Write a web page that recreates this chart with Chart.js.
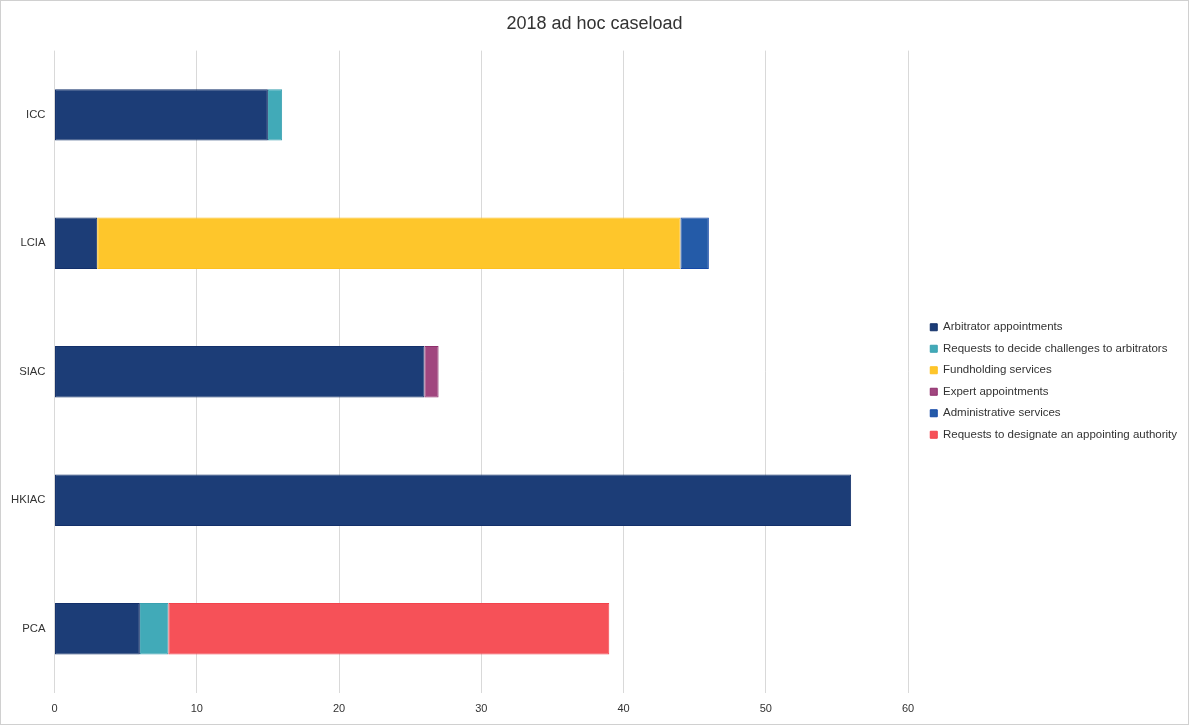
<!DOCTYPE html>
<html>
<head>
<meta charset="utf-8">
<script src="https://cdn.jsdelivr.net/npm/chart.js@4"></script>
<style>
  html, body { margin: 0; padding: 0; background: #fff; }
  #wrap { position: relative; width: 1189px; height: 725px; box-sizing: border-box; border: 1px solid #d0d0d0; }
</style>
</head>
<body>
<div id="wrap"><canvas id="chart"></canvas></div>
<script>
// Categories (top to bottom)
const institutions = ['ICC', 'LCIA', 'SIAC', 'HKIAC', 'PCA'];

// Series values, one entry per institution
const arbitratorAppointments = [15, 3, 26, 56, 6];
const challengeRequests = [1, null, null, null, 2];
const fundholdingServices = [null, 41, null, null, null];
const expertAppointments = [null, null, 1, null, null];
const administrativeServices = [null, 2, null, null, null];
const designateRequests = [null, null, null, null, 31];

// X axis ticks
const xTicks = [0, 10, 20, 30, 40, 50, 60];

const fontFamily = '"Liberation Sans", Arial, sans-serif';
const textColor = '#333333';

function series(label, data, fill, border) {
    return {
        label: label,
        data: data,
        backgroundColor: fill,
        borderColor: border,
        borderWidth: 1,
        borderSkipped: false,
        categoryPercentage: 1,
        barPercentage: 0.4
    };
}

const ctx = document.getElementById('chart').getContext('2d');
new Chart(ctx, {
    type: 'bar',
    data: {
        labels: institutions,
        datasets: [
            series('Arbitrator appointments', arbitratorAppointments, '#1c3d77', '#13306a'),
            series('Requests to decide challenges to arbitrators', challengeRequests, '#41aab8', '#3aa0b0'),
            series('Fundholding services', fundholdingServices, '#fec62b', '#fdc020'),
            series('Expert appointments', expertAppointments, '#a1467f', '#8e2f6c'),
            series('Administrative services', administrativeServices, '#245ba8', '#1448a8'),
            series('Requests to designate an appointing authority', designateRequests, '#f65158', '#f2434c')
        ]
    },
    options: {
        indexAxis: 'y',
        responsive: true,
        maintainAspectRatio: false,
        animation: false,
        layout: { padding: { top: 8, right: 1, bottom: 0, left: 1 } },
        scales: {
            x: {
                stacked: true,
                min: 0,
                // plot area runs a little past the last gridline, up to the legend
                max: 60.86,
                afterBuildTicks: axis => { axis.ticks = xTicks.map(v => ({ value: v })); },
                grid: { color: '#d9d9d9', drawTicks: false, lineWidth: 1 },
                border: { display: false },
                ticks: { color: textColor, font: { family: fontFamily, size: 11, lineHeight: 1 }, padding: 10 }
            },
            y: {
                stacked: true,
                grid: { display: false, drawTicks: false },
                border: { display: false },
                ticks: { color: textColor, font: { family: fontFamily, size: 11.3 }, padding: 9 }
            }
        },
        plugins: {
            title: {
                display: true,
                text: '2018 ad hoc caseload',
                color: textColor,
                font: { family: fontFamily, size: 18, weight: 'normal' },
                padding: { top: 4, bottom: 16 }
            },
            legend: {
                position: 'right',
                title: { display: true, text: '', font: { size: 10 }, padding: { top: 8.5, bottom: 8.5 } },
                labels: {
                    color: textColor,
                    boxWidth: 7,
                    boxHeight: 7,
                    padding: 10,
                    font: { family: fontFamily, size: 11.5 }
                }
            },
            tooltip: { enabled: false }
        }
    }
});
</script>
</body>
</html>
